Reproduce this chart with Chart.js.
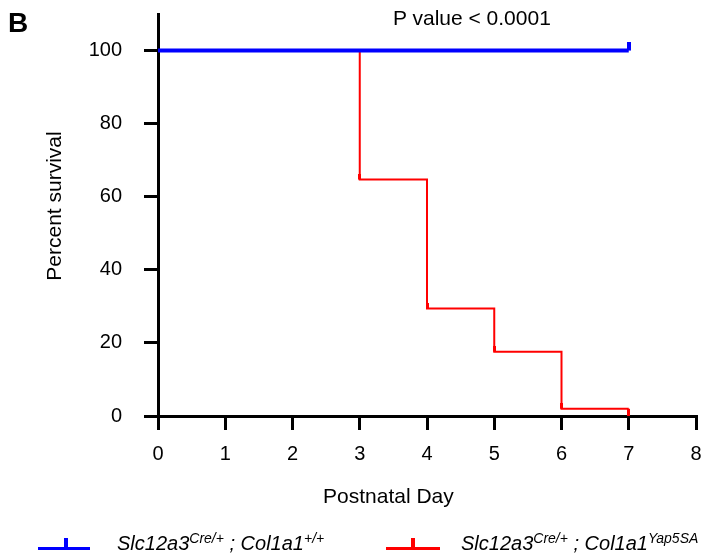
<!DOCTYPE html>
<html>
<head>
<meta charset="utf-8">
<script src="https://cdn.jsdelivr.net/npm/chart.js@4"></script>
<style>
  body { margin: 0; background: #fff; }
  #wrap { position: relative; width: 708px; height: 553px; font-family: "Liberation Sans", Arial, sans-serif; color: #000; }
  .txt { position: absolute; white-space: nowrap; }
  .leg { position: absolute; font-style: italic; font-size: 20px; line-height: 20px; white-space: nowrap; }
  .leg sup { font-size: 14px; vertical-align: 7px; line-height: 0; }
  .bar { position: absolute; }
</style>
</head>
<body>
<div id="wrap">
  <canvas id="survChart" width="708" height="553"></canvas>
  <div class="txt" style="left:8px; top:9px; font-size:28px; line-height:28px; font-weight:bold;">B</div>
  <div class="txt" style="left:393px; top:7px; font-size:21px; line-height:21px;">P value &lt; 0.0001</div>
  <div class="txt" style="left:323px; top:485px; font-size:21px; line-height:21px;">Postnatal Day</div>
  <div class="txt" style="left:-46px; top:194px; width:200px; text-align:center; font-size:21px; line-height:24px; transform:rotate(-90deg);">Percent survival</div>

  <div class="bar" style="left:38px; top:547px; width:52px; height:3px; background:#0000ff;"></div>
  <div class="bar" style="left:64px; top:538px; width:4px; height:10px; background:#0000ff;"></div>
  <div class="leg" style="left:117px; top:533px;">Slc12a3<sup>Cre/+</sup> ; Col1a1<sup>+/+</sup></div>

  <div class="bar" style="left:386px; top:547px; width:54px; height:3px; background:#ff0000;"></div>
  <div class="bar" style="left:411px; top:538px; width:4px; height:10px; background:#ff0000;"></div>
  <div class="leg" style="left:461px; top:533px;">Slc12a3<sup>Cre/+</sup> ; Col1a1<sup>Yap5SA</sup></div>
</div>

<script>
// dữ liệu (Kaplan-Meier)
const ctrlDays = [0, 7];
const ctrlSurvival = [100, 100];
const ctrlCensored = [false, true];

const yapDays = [0, 3, 4, 5, 6, 7];
const yapSurvival = [100, 64.7, 29.4, 17.6, 2, 2];
const yapCensored = [false, true, true, true, true, true];

const xTicks = [0, 1, 2, 3, 4, 5, 6, 7, 8];
const yTicks = [0, 20, 40, 60, 80, 100];

// vạch kiểm duyệt nhỏ (censor tick) vẽ thành ảnh điểm
function makeTick(color, w, h, down) {
    const c = document.createElement('canvas');
    c.width = w;
    c.height = h * 2;
    const g = c.getContext('2d');
    g.fillStyle = color;
    g.fillRect(0, down ? h : 0, w, h);
    return c;
}

const blueTick = makeTick('#0000ff', 4, 9, false);
const redTick = makeTick('#ff0000', 3, 6, false);
const redTickDown = makeTick('#ff0000', 3, 7, true);

function toPoints(days, vals) {
    return days.map((d, i) => ({ x: d, y: vals[i] }));
}

const axisFont = { family: '"Liberation Sans", Arial, sans-serif', size: 20 };

new Chart(document.getElementById('survChart').getContext('2d'), {
    type: 'line',
    data: {
        datasets: [
            {
                label: 'Slc12a3Cre/+ ; Col1a1+/+',
                data: toPoints(ctrlDays, ctrlSurvival),
                borderColor: '#0000ff',
                borderWidth: 4,
                stepped: 'before',
                pointRadius: ctrlCensored.map(c => c ? 5 : 0),
                pointStyle: ctrlCensored.map(() => blueTick),
                fill: false
            },
            {
                label: 'Slc12a3Cre/+ ; Col1a1Yap5SA',
                data: toPoints(yapDays, yapSurvival),
                borderColor: '#ff0000',
                borderWidth: 2,
                stepped: 'before',
                pointRadius: yapCensored.map(c => c ? 5 : 0),
                pointStyle: yapDays.map((d, i) => i === yapDays.length - 1 ? redTickDown : redTick),
                fill: false
            }
        ]
    },
    options: {
        responsive: false,
        animation: false,
        layout: { padding: { left: 0, top: 14, right: 12, bottom: 0 } },
        plugins: { legend: { display: false }, tooltip: { enabled: false } },
        scales: {
            x: {
                type: 'linear',
                min: 0,
                max: 8,
                afterFit: s => { s.height = 137; s.paddingLeft = 0; s.paddingRight = 0; },
                afterBuildTicks: s => { s.ticks = xTicks.map(v => ({ value: v })); },
                border: { display: true, color: '#000', width: 3 },
                grid: { drawOnChartArea: false, drawTicks: true, tickLength: 14, tickWidth: 3, tickColor: '#000', color: '#000', lineWidth: 3 },
                ticks: { color: '#000', font: axisFont, padding: 12, maxRotation: 0 }
            },
            y: {
                min: 0,
                max: 110,
                afterFit: s => { s.width = 158; s.paddingTop = 0; s.paddingBottom = 0; },
                afterBuildTicks: s => { s.ticks = yTicks.map(v => ({ value: v })); },
                border: { display: true, color: '#000', width: 3 },
                grid: { drawOnChartArea: false, drawTicks: true, tickLength: 14, tickWidth: 3, tickColor: '#000', color: '#000', lineWidth: 3 },
                ticks: { color: '#000', font: axisFont, padding: 22 }
            }
        }
    }
});
</script>
</body>
</html>
